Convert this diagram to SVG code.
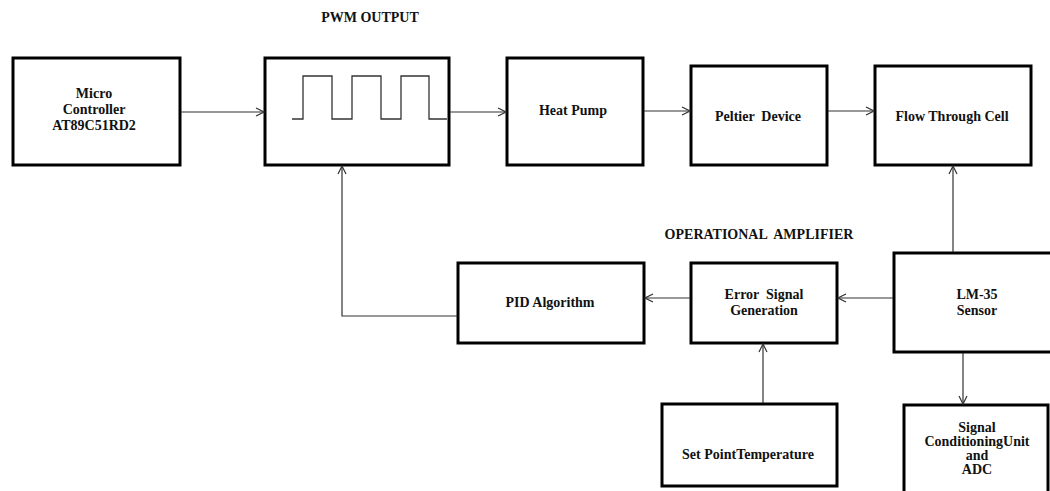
<svg xmlns="http://www.w3.org/2000/svg" width="1050" height="491" viewBox="0 0 1050 491">
<style>
.box{fill:#fff;stroke:#000;stroke-width:3}
.t{font-family:"Liberation Serif","Times New Roman",serif;font-weight:bold;font-size:14px;fill:#111;text-anchor:middle}
.c{fill:none;stroke:#333;stroke-width:1.2}
.w{fill:none;stroke:#333;stroke-width:1.3}
</style>
<defs>
<marker id="a" viewBox="0 0 10 10" refX="9" refY="5" markerWidth="10" markerHeight="10" markerUnits="userSpaceOnUse" orient="auto">
<path d="M1,1 L9,5 L1,9" fill="none" stroke="#333" stroke-width="1.2"/>
</marker>
</defs>
<rect width="1050" height="491" fill="#fff"/>
<text class="t" x="370" y="22">PWM OUTPUT</text>
<text class="t" x="759" y="239" xml:space="preserve">OPERATIONAL  AMPLIFIER</text>
<g id="micro">
<rect class="box" x="13" y="58" width="167" height="107"/>
<text class="t" x="94" y="98">Micro</text>
<text class="t" x="94" y="114">Controller</text>
<text class="t" x="94" y="130">AT89C51RD2</text>
</g>
<g id="pwm">
<rect class="box" x="265" y="58" width="184" height="107"/>
<polyline class="w" points="292,119 303,119 303,76 332,76 332,119 352,119 352,76 381,76 381,119 401,119 401,76 429,76 429,119 447,119"/>
</g>
<g id="heatpump">
<rect class="box" x="507" y="58" width="136" height="107"/>
<text class="t" x="573" y="115">Heat Pump</text>
</g>
<g id="peltier">
<rect class="box" x="691" y="66" width="136" height="99"/>
<text class="t" x="758" y="121" xml:space="preserve">Peltier  Device</text>
</g>
<g id="flowcell">
<rect class="box" x="875" y="66" width="156" height="99"/>
<text class="t" x="952" y="121">Flow Through Cell</text>
</g>
<g id="pid">
<rect class="box" x="458" y="263" width="186" height="80"/>
<text class="t" x="550" y="307">PID Algorithm</text>
</g>
<g id="error">
<rect class="box" x="691" y="263" width="146" height="80"/>
<text class="t" x="764" y="299" xml:space="preserve">Error  Signal</text>
<text class="t" x="764" y="315">Generation</text>
</g>
<g id="lm35">
<rect class="box" x="894" y="253" width="160" height="99"/>
<text class="t" x="977" y="299">LM-35</text>
<text class="t" x="977" y="315">Sensor</text>
</g>
<g id="setpoint">
<rect class="box" x="662" y="404" width="175" height="82"/>
<text class="t" x="748" y="459">Set PointTemperature</text>
</g>
<g id="signal">
<rect class="box" x="904" y="405" width="144" height="90"/>
<text class="t" x="977" y="432">Signal</text>
<text class="t" x="977" y="446">ConditioningUnit</text>
<text class="t" x="977" y="460">and</text>
<text class="t" x="977" y="474">ADC</text>
</g>
<g id="connectors">
<line class="c" x1="181" y1="112" x2="264" y2="112" marker-end="url(#a)"/>
<line class="c" x1="450" y1="112" x2="506" y2="112" marker-end="url(#a)"/>
<line class="c" x1="644" y1="111" x2="690" y2="111" marker-end="url(#a)"/>
<line class="c" x1="828" y1="111" x2="874" y2="111" marker-end="url(#a)"/>
<line class="c" x1="953" y1="252" x2="953" y2="166" marker-end="url(#a)"/>
<line class="c" x1="893" y1="298" x2="838" y2="298" marker-end="url(#a)"/>
<line class="c" x1="690" y1="298" x2="645" y2="298" marker-end="url(#a)"/>
<polyline class="c" points="457,316 342,316 342,166" marker-end="url(#a)"/>
<line class="c" x1="763" y1="403" x2="763" y2="344" marker-end="url(#a)"/>
<line class="c" x1="963" y1="353" x2="963" y2="404" marker-end="url(#a)"/>
</g>
</svg>
